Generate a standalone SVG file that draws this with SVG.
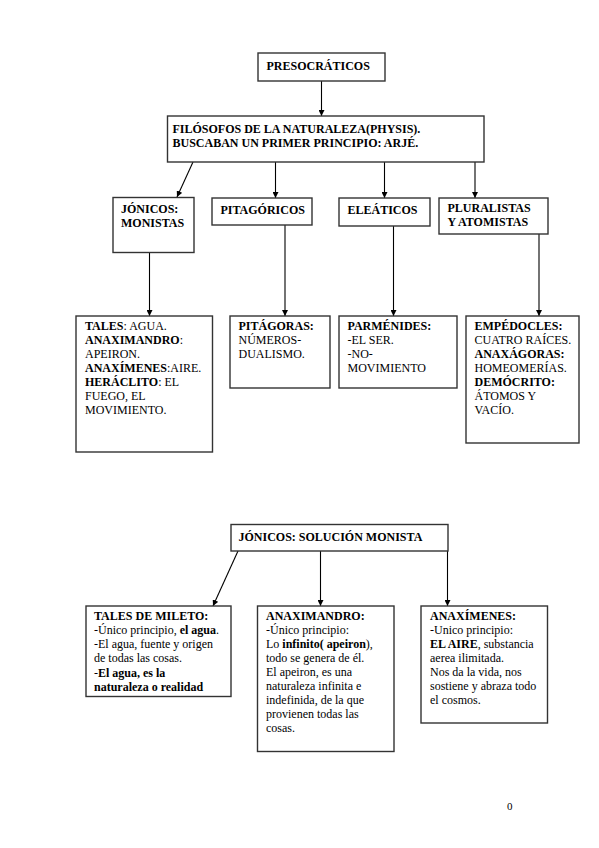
<svg xmlns="http://www.w3.org/2000/svg" width="599" height="848" viewBox="0 0 599 848">
<defs>
<marker id="ah" viewBox="0 0 8 8" refX="8" refY="4" markerWidth="6" markerHeight="6" orient="auto" markerUnits="userSpaceOnUse">
<path d="M0,0 L8,4 L0,8 Z" fill="#000"/>
</marker>
<style>
.box{fill:#fff;stroke:#333;stroke-width:1.4}
.t{font-family:"Liberation Serif","Times New Roman",serif;font-size:12px;fill:#000}
.b{font-weight:700}
.c{stroke:#000;stroke-width:1.1;fill:none;marker-end:url(#ah)}
</style>
</defs>
<rect width="599" height="848" fill="#fff"/>

<g id="connectors">
<line class="c" x1="321.5" y1="81" x2="321.5" y2="116"/>
<line class="c" x1="193" y1="162" x2="177" y2="197"/>
<line class="c" x1="275.5" y1="162" x2="275.5" y2="198"/>
<line class="c" x1="384.5" y1="162" x2="384.5" y2="198"/>
<line class="c" x1="475" y1="162" x2="475" y2="198"/>
<line class="c" x1="149.5" y1="253" x2="149.5" y2="316"/>
<line class="c" x1="285" y1="225" x2="285" y2="316"/>
<line class="c" x1="393.5" y1="226" x2="393.5" y2="316"/>
<line class="c" x1="539" y1="234" x2="539" y2="316"/>
<line class="c" x1="238" y1="551" x2="213" y2="606"/>
<line class="c" x1="320.5" y1="551" x2="320.5" y2="606"/>
<line class="c" x1="447.5" y1="551" x2="447.5" y2="606"/>
</g>

<g id="presocraticos">
<rect class="box" x="258" y="53" width="127" height="28"/>
<text class="t b" x="266.5" y="70">PRESOCRÁTICOS</text>
</g>

<g id="filosofos">
<rect class="box" x="167.5" y="116" width="316.5" height="46"/>
<text class="t b" x="172.5" y="132.5">FILÓSOFOS DE LA NATURALEZA(PHYSIS).</text>
<text class="t b" x="172.5" y="146.5">BUSCABAN UN PRIMER PRINCIPIO:  ARJÉ.</text>
</g>

<g id="jonicos">
<rect class="box" x="113" y="197.5" width="81" height="55"/>
<text class="t b" x="121" y="212.5">JÓNICOS:</text>
<text class="t b" x="121" y="226.5">MONISTAS</text>
</g>

<g id="pitagoricos">
<rect class="box" x="212" y="198" width="100" height="27"/>
<text class="t b" x="220.5" y="213.5">PITAGÓRICOS</text>
</g>

<g id="eleaticos">
<rect class="box" x="339" y="198" width="91" height="28"/>
<text class="t b" x="347.5" y="213.5">ELEÁTICOS</text>
</g>

<g id="pluralistas">
<rect class="box" x="439" y="198" width="109" height="36"/>
<text class="t b" x="447.5" y="211.5">PLURALISTAS</text>
<text class="t b" x="447.5" y="225.5">Y ATOMISTAS</text>
</g>

<g id="tales-top">
<rect class="box" x="76" y="316" width="136.5" height="136"/>
<text class="t" x="85" y="330"><tspan class="b">TALES</tspan>: AGUA.</text>
<text class="t" x="85" y="344"><tspan class="b">ANAXIMANDRO</tspan>:</text>
<text class="t" x="85" y="358">APEIRON.</text>
<text class="t" x="85" y="372"><tspan class="b">ANAXÍMENES</tspan>:AIRE.</text>
<text class="t" x="85" y="386"><tspan class="b">HERÁCLITO</tspan>: EL</text>
<text class="t" x="85" y="400">FUEGO, EL</text>
<text class="t" x="85" y="414">MOVIMIENTO.</text>
</g>

<g id="pitagoras">
<rect class="box" x="230" y="316" width="100" height="72"/>
<text class="t b" x="238.5" y="330">PITÁGORAS:</text>
<text class="t" x="238.5" y="344">NÚMEROS-</text>
<text class="t" x="238.5" y="358">DUALISMO.</text>
</g>

<g id="parmenides">
<rect class="box" x="339" y="316" width="118" height="72"/>
<text class="t b" x="347.5" y="330">PARMÉNIDES:</text>
<text class="t" x="347.5" y="344">-EL SER.</text>
<text class="t" x="347.5" y="358">-NO-</text>
<text class="t" x="347.5" y="372">MOVIMIENTO</text>
</g>

<g id="empedocles">
<rect class="box" x="466" y="316" width="113" height="127"/>
<text class="t b" x="474.5" y="330">EMPÉDOCLES:</text>
<text class="t" x="474.5" y="344">CUATRO RAÍCES.</text>
<text class="t b" x="474.5" y="358">ANAXÁGORAS:</text>
<text class="t" x="474.5" y="372">HOMEOMERÍAS.</text>
<text class="t b" x="474.5" y="386">DEMÓCRITO:</text>
<text class="t" x="474.5" y="400">ÁTOMOS Y</text>
<text class="t" x="474.5" y="414">VACÍO.</text>
</g>

<g id="solucion-monista">
<rect class="box" x="231" y="524.5" width="217" height="26.5"/>
<text class="t b" x="238.5" y="540.5">JÓNICOS: SOLUCIÓN MONISTA</text>
</g>

<g id="tales-mileto">
<rect class="box" x="86" y="606" width="145" height="90.5"/>
<text class="t b" x="94" y="620">TALES DE MILETO:</text>
<text class="t" x="94" y="634">-Único principio, <tspan class="b">el agua</tspan>.</text>
<text class="t" x="94" y="648">-El agua, fuente y origen</text>
<text class="t" x="94" y="662">de todas las cosas.</text>
<text class="t" x="94" y="677">-<tspan class="b">El agua, es la</tspan></text>
<text class="t b" x="94" y="691">naturaleza o realidad</text>
</g>

<g id="anaximandro">
<rect class="box" x="257.5" y="606" width="136.5" height="145.5"/>
<text class="t b" x="266" y="620">ANAXIMANDRO:</text>
<text class="t" x="266" y="634">-Único principio:</text>
<text class="t" x="266" y="648">Lo <tspan class="b">infinito( apeiron</tspan>),</text>
<text class="t" x="266" y="662">todo se genera de él.</text>
<text class="t" x="266" y="676">El apeiron, es una</text>
<text class="t" x="266" y="690">naturaleza infinita e</text>
<text class="t" x="266" y="704">indefinida, de la que</text>
<text class="t" x="266" y="718">provienen todas las</text>
<text class="t" x="266" y="732">cosas.</text>
</g>

<g id="anaximenes">
<rect class="box" x="421" y="606" width="126.5" height="117"/>
<text class="t b" x="430" y="620">ANAXÍMENES:</text>
<text class="t" x="430" y="634">-Unico principio:</text>
<text class="t" x="430" y="648"><tspan class="b">EL AIRE</tspan>, substancia</text>
<text class="t" x="430" y="662">aerea ilimitada.</text>
<text class="t" x="430" y="676">Nos da la vida, nos</text>
<text class="t" x="430" y="690">sostiene y abraza todo</text>
<text class="t" x="430" y="704">el  cosmos.</text>
</g>

<text class="t" x="507" y="810" style="font-size:11px">0</text>
</svg>
